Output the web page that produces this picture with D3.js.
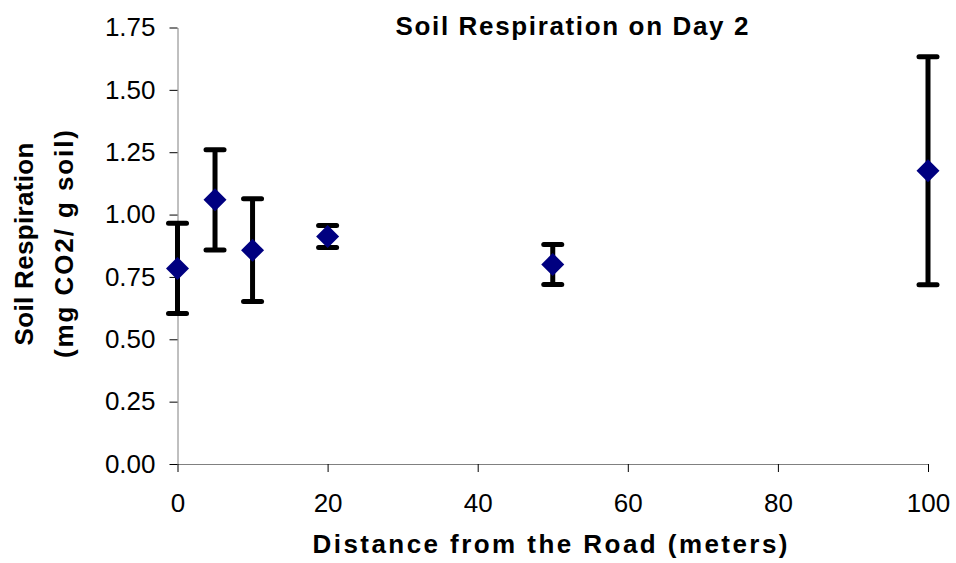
<!DOCTYPE html>
<html>
  <head>
    <meta charset="utf-8" />
    <title>Soil Respiration on Day 2</title>
    <script src="https://d3js.org/d3.v7.min.js"></script>
    <style>
      body { margin: 0; background: #fff; }
      text { font-family: Arial, "Liberation Sans", sans-serif; }
    </style>
  </head>
  <body>
    <script type="text/javascript">
    // distance from the road (m), mean respiration and error (mg CO2 / g soil)
    var distances = [0, 5, 10, 20, 50, 100];
    var means = [0.784, 1.059, 0.857, 0.912, 0.80, 1.176];
    var errors = [0.181, 0.201, 0.206, 0.044, 0.08, 0.457];
    var yTicks = [0, 0.25, 0.5, 0.75, 1.0, 1.25, 1.5, 1.75];
    var xTicks = [0, 20, 40, 60, 80, 100];

    var svg = d3.select("body").append("svg")
      .attr("width", 956)
      .attr("height", 563);

    var x = d3.scaleLinear().domain([0, 100]).range([177.5, 928]);
    var y = d3.scaleLinear().domain([0, 1.75]).range([464, 27.5]);

    // y axis
    var yAxis = svg.append("g")
      .attr("transform", "translate(177.5,0)")
      .call(d3.axisLeft(y).tickValues(yTicks).tickFormat(d3.format(".2f"))
        .tickSize(8).tickPadding(14).tickSizeOuter(0));
    yAxis.select(".domain").attr("stroke", "#808080");
    yAxis.selectAll(".tick line").attr("stroke", "#000");
    yAxis.selectAll("text").attr("font-size", 26).attr("fill", "#000")
      .attr("font-family", "Arial, 'Liberation Sans', sans-serif");

    // x axis
    var xAxis = svg.append("g")
      .attr("transform", "translate(0,464)")
      .call(d3.axisBottom(x).tickValues(xTicks).tickFormat(d3.format("d"))
        .tickSize(8).tickPadding(22).tickSizeOuter(0));
    xAxis.select(".domain").attr("stroke", "#808080");
    xAxis.selectAll(".tick line").attr("stroke", "#000");
    xAxis.selectAll("text").attr("font-size", 26).attr("fill", "#000")
      .attr("font-family", "Arial, 'Liberation Sans', sans-serif");

    // error bars
    var bars = svg.append("g");
    distances.forEach(function(d, i) {
      var cx = x(d), top = y(means[i] + errors[i]), bot = y(means[i] - errors[i]);
      bars.append("line")
        .attr("x1", cx).attr("x2", cx).attr("y1", top).attr("y2", bot)
        .attr("stroke", "#000").attr("stroke-width", 5);
      [top, bot].forEach(function(cy) {
        bars.append("line")
          .attr("x1", cx - 9).attr("x2", cx + 9).attr("y1", cy).attr("y2", cy)
          .attr("stroke", "#000").attr("stroke-width", 5)
          .attr("stroke-linecap", "round");
      });
    });

    // diamond markers
    svg.append("g").selectAll("path")
      .data(distances)
      .enter().append("path")
      .attr("d", "M0,-11.5L11.5,0L0,11.5L-11.5,0Z")
      .attr("transform", function(d, i) { return "translate(" + x(d) + "," + y(means[i]) + ")"; })
      .attr("fill", "#000080");

    // titles
    svg.append("text")
      .attr("x", 572).attr("y", 35)
      .attr("text-anchor", "middle")
      .attr("font-size", 26).attr("font-weight", "bold")
      .attr("textLength", 353).attr("lengthAdjust", "spacing")
      .text("Soil Respiration on Day 2");

    svg.append("text")
      .attr("x", 550).attr("y", 553)
      .attr("text-anchor", "middle")
      .attr("font-size", 26).attr("font-weight", "bold")
      .attr("textLength", 475).attr("lengthAdjust", "spacing")
      .text("Distance from the Road (meters)");

    var yt = svg.append("g").attr("transform", "translate(0,244) rotate(-90)");
    yt.append("text")
      .attr("x", 0).attr("y", 33)
      .attr("text-anchor", "middle")
      .attr("font-size", 26).attr("font-weight", "bold")
      .attr("textLength", 203).attr("lengthAdjust", "spacing")
      .text("Soil Respiration");
    yt.append("text")
      .attr("x", 0).attr("y", 73)
      .attr("text-anchor", "middle")
      .attr("font-size", 26).attr("font-weight", "bold")
      .attr("textLength", 228).attr("lengthAdjust", "spacing")
      .text("(mg CO2/ g soil)");
    </script>
  </body>
</html>
